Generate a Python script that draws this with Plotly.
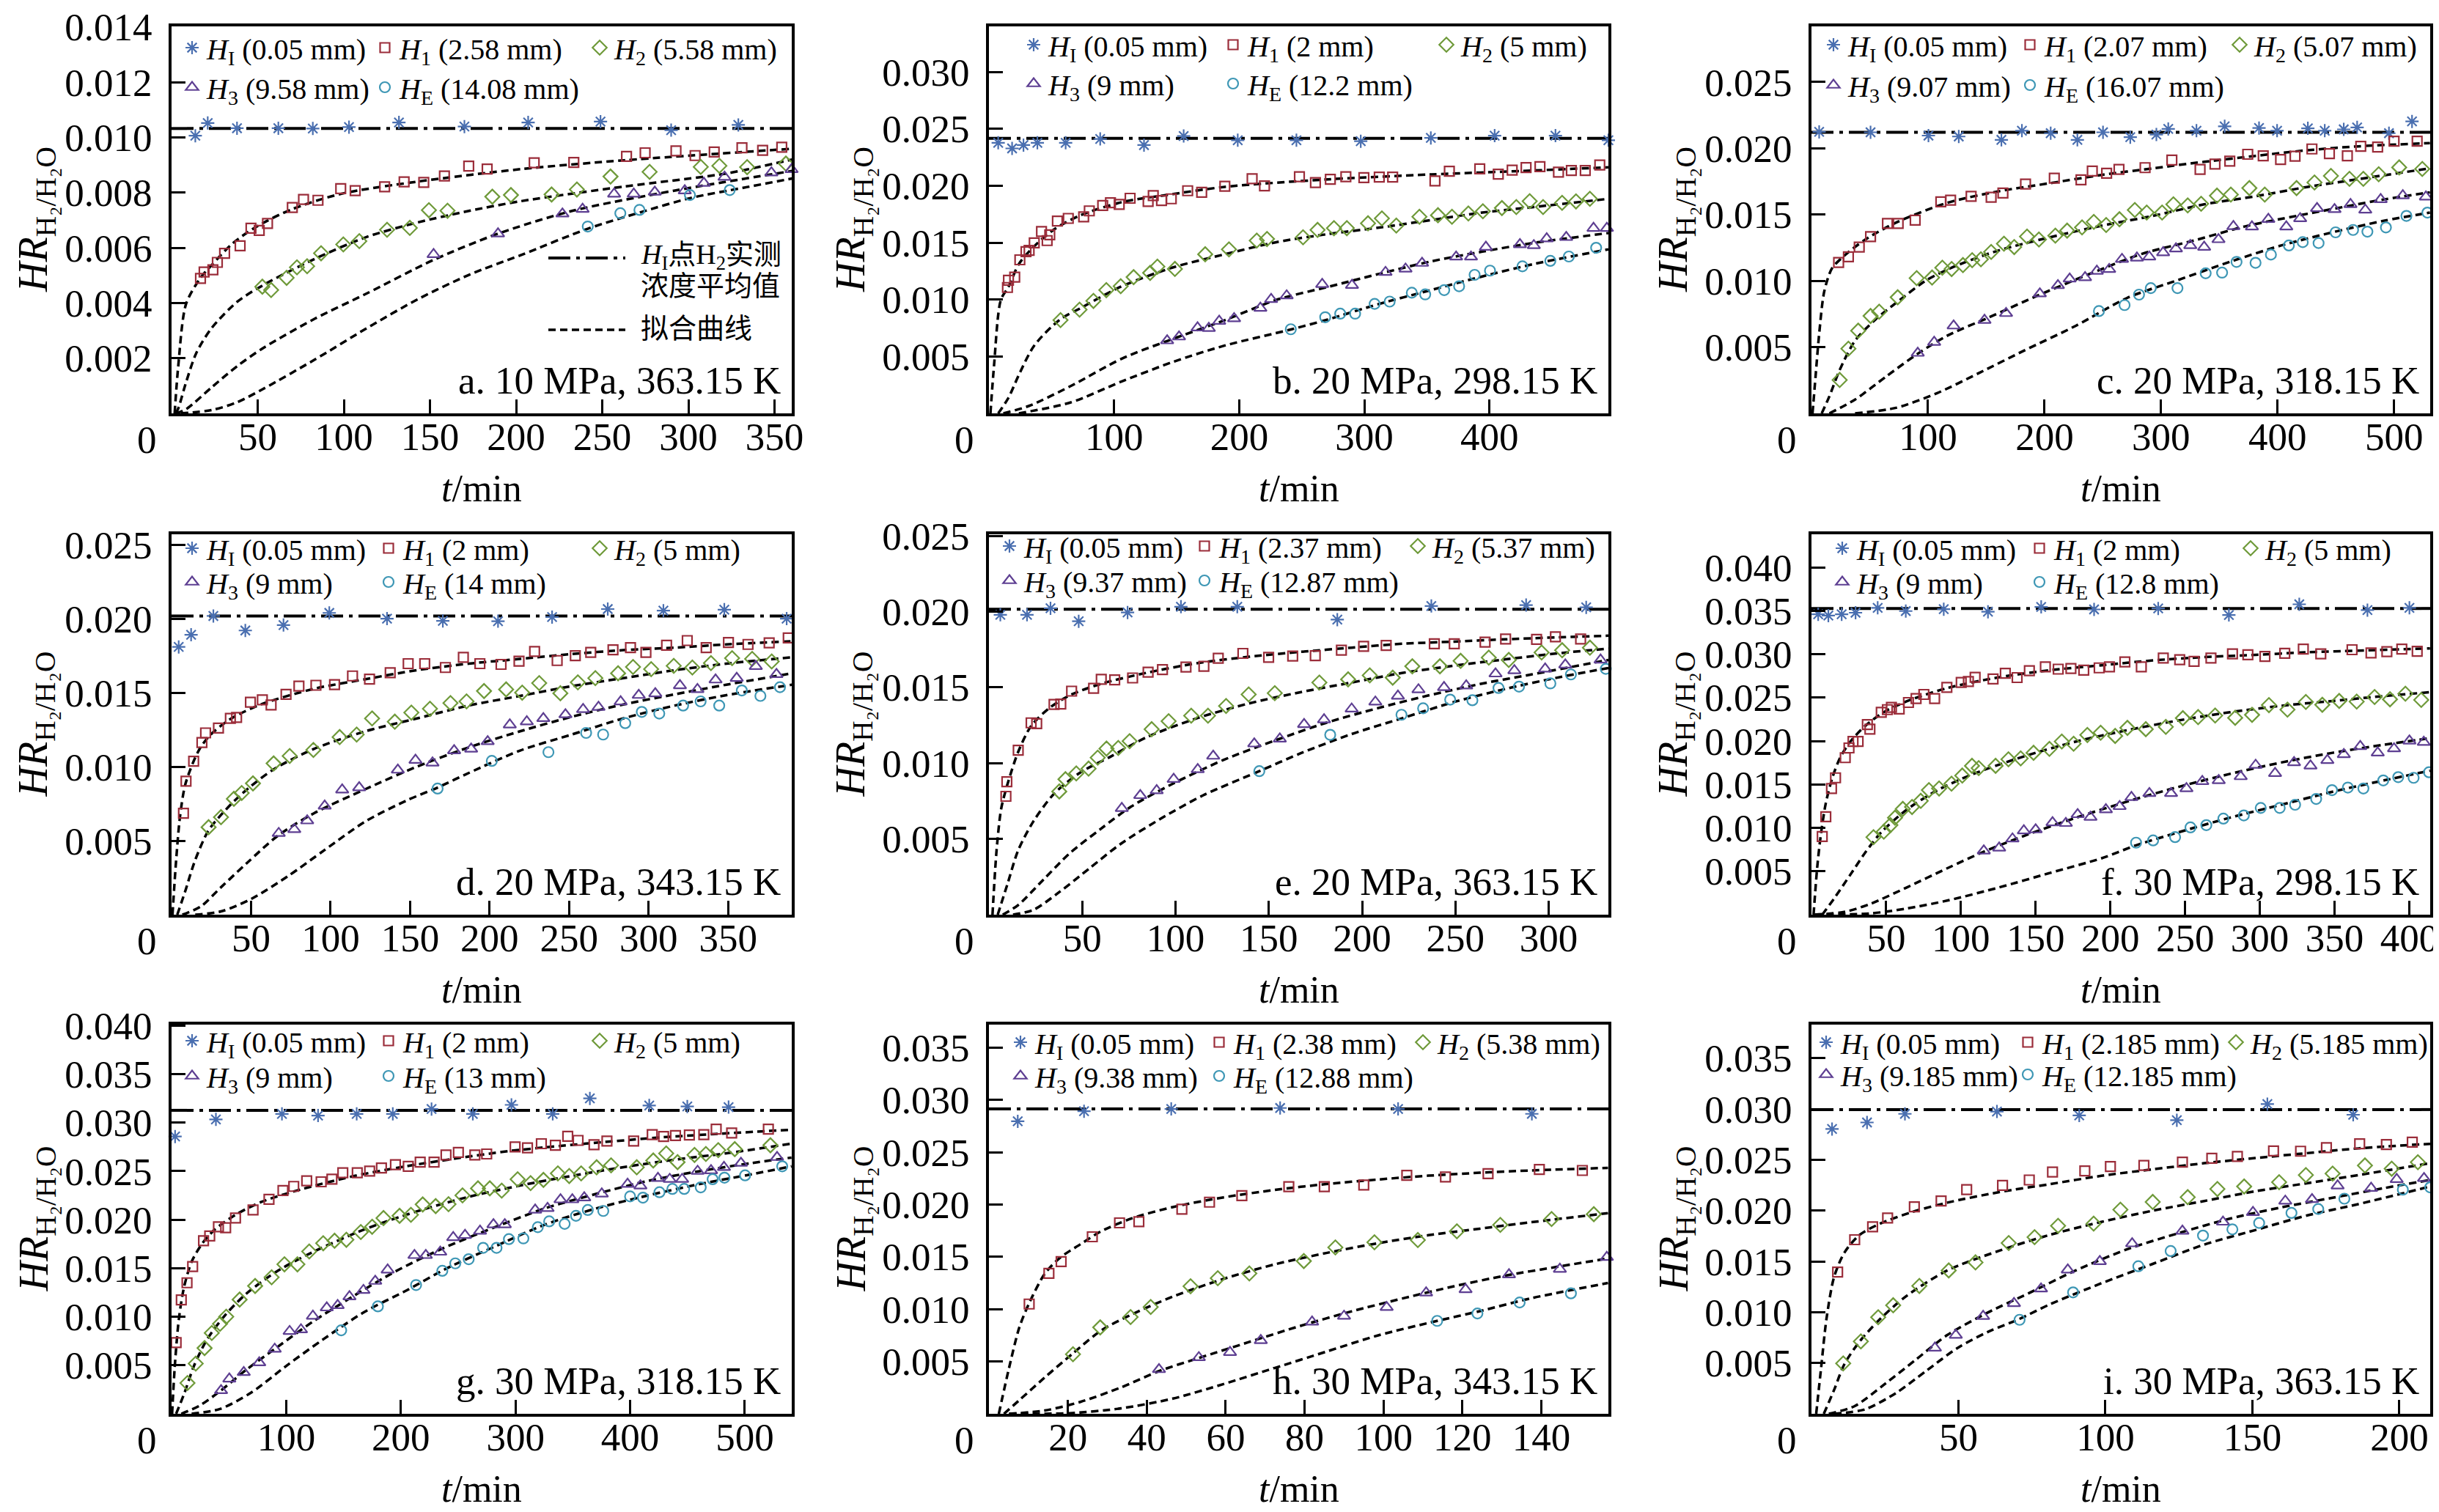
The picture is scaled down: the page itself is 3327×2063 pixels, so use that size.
import plotly.graph_objects as go

W, H = 3327, 2063
SERIF = "Liberation Serif, Times New Roman, serif"
CJK = "Liberation Serif, Noto Sans CJK SC, serif"

SUBS = ["I", "1", "2", "3", "E"]

# ---------------- a. 10 MPa, 363.15 K ----------------
A_TITLE = "a. 10 MPa, 363.15 K"
A_DEPTHS = ["0.05", "2.58", "5.58", "9.58", "14.08"]
A_XTICKS = [50, 100, 150, 200, 250, 300, 350]
A_YTICKS = [0.002, 0.004, 0.006, 0.008, 0.010, 0.012, 0.014]
A_MEAN = 0.01032
A_HI = [(13.8, 0.01006), (21.0, 0.01052), (38.0, 0.01033), (62.0, 0.01033), (82.0, 0.01032),
        (103.0, 0.01037), (132.0, 0.01054), (170.0, 0.01039), (207.0, 0.01054), (249.0, 0.01057),
        (290.0, 0.01026), (329.0, 0.01045), (361.0, 0.01045)]
A_H1 = [(16.8, 0.00489), (18.9, 0.00512), (24.0, 0.00520), (26.6, 0.00547), (30.8, 0.00580),
        (39.8, 0.00607), (46.1, 0.00671), (50.9, 0.00663), (55.7, 0.00688), (70.1, 0.00746),
        (76.6, 0.00775), (85.0, 0.00772), (98.2, 0.00814), (106.6, 0.00807), (123.7, 0.00821),
        (135.0, 0.00839), (146.4, 0.00837), (158.4, 0.00860), (172.5, 0.00896), (183.2, 0.00885),
        (210.5, 0.00908), (233.5, 0.00909), (264.1, 0.00931), (274.9, 0.00944), (292.8, 0.00951),
        (303.9, 0.00934), (315.0, 0.00947), (331.1, 0.00962), (343.1, 0.00953), (354.2, 0.00964)]
A_H2 = [(52.7, 0.00459), (57.8, 0.00447), (66.8, 0.00491), (72.8, 0.00529), (78.7, 0.00533),
        (86.8, 0.00580), (99.7, 0.00612), (109.0, 0.00624), (125.1, 0.00665), (138.3, 0.00672),
        (149.4, 0.00736), (160.2, 0.00734), (186.2, 0.00785), (197.0, 0.00791), (220.6, 0.00793),
        (235.3, 0.00811), (254.8, 0.00858), (277.5, 0.00875), (307.2, 0.00893), (318.0, 0.00897),
        (334.1, 0.00892), (356.6, 0.00905)]
A_H3 = [(152.1, 0.00576), (189.5, 0.00651), (226.9, 0.00723), (238.6, 0.00740), (256.9, 0.00795),
        (268.3, 0.00795), (280.5, 0.00802), (297.9, 0.00807), (309.0, 0.00834), (321.0, 0.00856),
        (348.2, 0.00872), (359.9, 0.00884)]
A_HE = [(241.6, 0.00677), (260.5, 0.00725), (271.6, 0.00737), (300.9, 0.00791), (324.0, 0.00809)]
A_FIT1 = [(1.8, 0), (3.9, 0.00172), (8.4, 0.00396), (16.8, 0.00491), (23.4, 0.00538), (35.3, 0.00615),
          (49.7, 0.00678), (70.1, 0.00740), (98.2, 0.00795), (143.1, 0.00840), (203.0, 0.00885),
          (262.9, 0.00917), (361.1, 0.00959)]
A_FIT2 = [(2.4, 0), (3.9, 0.00018), (8.4, 0.00112), (14.4, 0.00219), (23.4, 0.00310), (38.3, 0.00405),
          (53.3, 0.00465), (83.2, 0.00560), (113.2, 0.00639), (143.1, 0.00692), (173.1, 0.00734),
          (203.0, 0.00769), (262.9, 0.00822), (322.8, 0.00870), (361.1, 0.00921)]
A_FIT3 = [(2.4, 0), (8.4, 0.00015), (23.4, 0.00095), (38.3, 0.00172), (53.3, 0.00237), (83.2, 0.00343),
          (113.2, 0.00434), (152.1, 0.00556), (189.5, 0.00651), (232.9, 0.00734), (292.8, 0.00808),
          (361.1, 0.00879)]
A_FIT4 = [(5.4, 0), (23.4, 0.00012), (38.3, 0.00041), (53.3, 0.00089), (83.2, 0.00195), (113.2, 0.00308),
          (143.1, 0.00414), (173.1, 0.00503), (203.0, 0.00574), (241.6, 0.00669), (271.9, 0.00728),
          (301.8, 0.00781), (331.7, 0.00817), (361.1, 0.00852)]

# ---------------- b. 20 MPa, 298.15 K ----------------
B_TITLE = "b. 20 MPa, 298.15 K"
B_DEPTHS = ["0.05", "2", "5", "9", "12.2"]
B_XTICKS = [100, 200, 300, 400]
B_YTICKS = [0.005, 0.010, 0.015, 0.020, 0.025, 0.030]
B_MEAN = 0.02417
B_HI = [(7.4, 0.02377), (18.5, 0.02328), (27.6, 0.02357), (38.7, 0.02377), (61.3, 0.02377),
        (88.9, 0.02411), (123.9, 0.02357), (155.6, 0.02437), (198.8, 0.02400), (245.7, 0.02400),
        (297.1, 0.02391), (353.1, 0.02420), (404.1, 0.02440), (452.7, 0.02440), (495.0, 0.02400)]
B_H1 = [(14.8, 0.01106), (15.6, 0.01169), (20.6, 0.01197), (24.7, 0.01349), (29.6, 0.01421),
        (32.1, 0.01432), (36.2, 0.01498), (42.0, 0.01598), (46.5, 0.01518), (48.6, 0.01569),
        (54.7, 0.01690), (63.4, 0.01713), (75.7, 0.01727), (80.2, 0.01779), (90.9, 0.01827),
        (97.1, 0.01850), (104.1, 0.01836), (112.8, 0.01890), (127.2, 0.01862), (131.3, 0.01913),
        (137.9, 0.01870), (145.7, 0.01885), (158.8, 0.01956), (170.0, 0.01942), (188.5, 0.01996),
        (210.3, 0.02062), (220.2, 0.01999), (248.1, 0.02079), (260.9, 0.02028), (272.8, 0.02056),
        (285.2, 0.02079), (299.6, 0.02071), (311.9, 0.02076), (322.6, 0.02076), (356.4, 0.02042),
        (367.9, 0.02128), (392.2, 0.02148), (407.0, 0.02102), (418.1, 0.02137), (429.2, 0.02159),
        (440.3, 0.02168), (455.1, 0.02119), (465.4, 0.02134), (476.5, 0.02134), (488.1, 0.02182)]
B_H2 = [(57.2, 0.00819), (72.4, 0.00911), (83.5, 0.00988), (93.8, 0.01083), (105.3, 0.01117),
        (115.6, 0.01197), (128.8, 0.01234), (134.6, 0.01289), (148.6, 0.01269), (172.8, 0.01398),
        (191.8, 0.01441), (214.0, 0.01518), (222.2, 0.01532), (251.0, 0.01547), (262.6, 0.01612),
        (275.7, 0.01627), (286.0, 0.01627), (302.9, 0.01670), (314.0, 0.01713), (325.5, 0.01650),
        (344.0, 0.01727), (358.8, 0.01741), (370.0, 0.01727), (383.1, 0.01756), (394.7, 0.01776),
        (409.9, 0.01804), (421.4, 0.01813), (432.1, 0.01864), (442.8, 0.01813), (458.0, 0.01850),
        (469.1, 0.01862), (480.2, 0.01885)]
B_H3 = [(142.4, 0.00639), (151.9, 0.00673), (166.7, 0.00753), (175.7, 0.00748), (184.0, 0.00811),
        (195.9, 0.00833), (216.9, 0.00925), (225.5, 0.01002), (237.9, 0.01034), (266.3, 0.01134),
        (290.1, 0.01126), (316.9, 0.01240), (332.9, 0.01269), (346.1, 0.01320), (373.3, 0.01375),
        (385.2, 0.01375), (397.1, 0.01461), (424.3, 0.01484), (435.4, 0.01475), (445.7, 0.01535),
        (461.3, 0.01547), (483.1, 0.01627), (493.8, 0.01627)]
B_HE = [(241.2, 0.00739), (268.7, 0.00845), (280.7, 0.00876), (292.6, 0.00876), (308.2, 0.00962),
        (320.2, 0.00982), (337.9, 0.01060), (348.6, 0.01045), (363.8, 0.01083), (375.7, 0.01117),
        (388.1, 0.01217), (400.4, 0.01254), (426.3, 0.01292), (448.6, 0.01340), (463.4, 0.01378),
        (485.2, 0.01455)]
B_FIT1 = [(1.2, 0), (4.1, 0.00424), (9.5, 0.00997), (15.6, 0.01111), (23.9, 0.01312), (36.2, 0.01469),
          (52.7, 0.01621), (73.3, 0.01741), (106.2, 0.01856), (147.3, 0.01927), (188.5, 0.01990),
          (270.8, 0.02056), (353.1, 0.02099), (435.4, 0.02134), (495.0, 0.02162)]
B_FIT2 = [(7.4, 0), (15.6, 0.00137), (23.9, 0.00338), (36.2, 0.00596), (56.8, 0.00825), (73.3, 0.00925),
          (106.2, 0.01117), (147.3, 0.01283), (188.5, 0.01398), (229.6, 0.01504), (270.8, 0.01575),
          (311.9, 0.01632), (353.1, 0.01698), (394.2, 0.01764), (435.4, 0.01813), (495.0, 0.01885)]
B_FIT3 = [(11.5, 0), (32.1, 0.00066), (65.0, 0.00238), (106.2, 0.00481), (143.2, 0.00639),
          (188.5, 0.00819), (229.6, 0.00997), (270.8, 0.01111), (311.9, 0.01226), (353.1, 0.01335),
          (394.2, 0.01421), (435.4, 0.01498), (495.0, 0.01584)]
B_FIT4 = [(23.9, 0), (65.0, 0.00095), (106.2, 0.00281), (147.3, 0.00453), (188.5, 0.00596),
          (242.0, 0.00739), (270.8, 0.00825), (311.9, 0.00962), (353.1, 0.01083), (394.2, 0.01203),
          (435.4, 0.01312), (495.0, 0.01441)]

# ---------------- c. 20 MPa, 318.15 K ----------------
C_TITLE = "c. 20 MPa, 318.15 K"
C_DEPTHS = ["0.05", "2.07", "5.07", "9.07", "16.07"]
C_XTICKS = [100, 200, 300, 400, 500]
C_YTICKS = [0.005, 0.010, 0.015, 0.020, 0.025]
C_MEAN = 0.02121
C_HI = [(6.6, 0.02124), (50.7, 0.02121), (100.4, 0.02096), (126.4, 0.02089), (163.0, 0.02064),
        (180.6, 0.02133), (205.3, 0.02114), (228.2, 0.02064), (250.2, 0.02121), (273.6, 0.02084),
        (296.0, 0.02104), (306.2, 0.02146), (330.4, 0.02133), (354.6, 0.02166), (384.1, 0.02153),
        (399.6, 0.02133), (426.0, 0.02151), (440.5, 0.02133), (456.8, 0.02143), (468.3, 0.02158),
        (495.6, 0.02114), (515.4, 0.02203)]
C_H1 = [(23.3, 0.01139), (31.7, 0.01181), (41.0, 0.01255), (50.7, 0.01334), (65.2, 0.01433),
        (74.4, 0.01433), (89.0, 0.01458), (111.0, 0.01596), (119.4, 0.01609), (137.0, 0.01638),
        (154.2, 0.01631), (164.3, 0.01663), (183.7, 0.01730), (208.4, 0.01775), (231.3, 0.01762),
        (241.0, 0.01829), (253.3, 0.01812), (263.9, 0.01841), (286.3, 0.01854), (309.3, 0.01911),
        (333.5, 0.01841), (346.3, 0.01881), (359.0, 0.01903), (374.4, 0.01955), (387.7, 0.01943),
        (402.6, 0.01916), (415.0, 0.01940), (429.5, 0.01995), (444.5, 0.01960), (459.9, 0.01943),
        (471.4, 0.02015), (485.9, 0.02010), (500.0, 0.02054), (519.8, 0.02054)]
C_H2 = [(24.2, 0.00252), (31.7, 0.00488), (40.1, 0.00624), (50.7, 0.00735), (58.1, 0.00767),
        (74.0, 0.00876), (90.3, 0.01020), (103.5, 0.01025), (112.3, 0.01099), (120.3, 0.01089),
        (130.0, 0.01119), (137.9, 0.01156), (145.4, 0.01163), (154.2, 0.01218), (165.2, 0.01280),
        (174.0, 0.01255), (185.0, 0.01334), (195.2, 0.01312), (209.3, 0.01341), (219.4, 0.01379),
        (232.2, 0.01403), (242.3, 0.01445), (252.9, 0.01421), (264.3, 0.01465), (277.5, 0.01535),
        (287.7, 0.01515), (300.9, 0.01515), (310.6, 0.01577), (322.9, 0.01569), (334.4, 0.01582),
        (348.0, 0.01643), (359.9, 0.01651), (375.8, 0.01700), (389.0, 0.01651), (416.3, 0.01700),
        (431.7, 0.01742), (445.8, 0.01792), (461.7, 0.01770), (473.6, 0.01770), (486.8, 0.01804),
        (504.4, 0.01856), (524.2, 0.01844)]
C_H3 = [(91.2, 0.00455), (105.3, 0.00537), (122.0, 0.00661), (148.5, 0.00703), (167.0, 0.00755),
        (196.0, 0.00903), (211.5, 0.00965), (221.6, 0.01015), (234.8, 0.01025), (244.9, 0.01074),
        (255.5, 0.01087), (266.5, 0.01163), (279.3, 0.01173), (289.9, 0.01181), (301.8, 0.01213),
        (312.8, 0.01242), (325.1, 0.01267), (337.0, 0.01255), (349.3, 0.01312), (362.1, 0.01411),
        (378.0, 0.01408), (392.1, 0.01465), (407.5, 0.01408), (419.4, 0.01470), (433.9, 0.01547),
        (448.9, 0.01539), (462.6, 0.01577), (475.3, 0.01535), (488.5, 0.01614), (507.5, 0.01643),
        (527.3, 0.01634)]
C_HE = [(246.7, 0.00772), (268.7, 0.00817), (281.1, 0.00896), (291.2, 0.00945), (314.1, 0.00945),
        (338.3, 0.01057), (352.4, 0.01062), (364.8, 0.01143), (381.1, 0.01136), (394.3, 0.01198),
        (409.7, 0.01267), (421.6, 0.01292), (435.2, 0.01285), (449.8, 0.01366), (464.8, 0.01384),
        (477.1, 0.01371), (493.0, 0.01403), (510.6, 0.01490), (528.6, 0.01515)]
C_FIT1 = [(0.9, 0), (3.5, 0.00277), (6.6, 0.00599), (11.0, 0.00921), (17.6, 0.01094), (28.6, 0.01193),
          (46.3, 0.01312), (72.7, 0.01440), (116.7, 0.01589), (160.8, 0.01676), (204.8, 0.01737),
          (248.9, 0.01799), (292.9, 0.01849), (337.0, 0.01898), (381.1, 0.01943), (425.1, 0.01985),
          (469.2, 0.02015), (530.8, 0.02039)]
C_FIT2 = [(8.8, 0), (15.4, 0.00129), (24.2, 0.00327), (37.4, 0.00549), (55.1, 0.00710), (72.7, 0.00834),
          (99.1, 0.01007), (125.6, 0.01119), (160.8, 0.01230), (204.8, 0.01329), (248.9, 0.01416),
          (292.9, 0.01490), (337.0, 0.01577), (381.1, 0.01638), (425.1, 0.01708), (469.2, 0.01767),
          (530.8, 0.01849)]
C_FIT3 = [(15.4, 0), (37.4, 0.00104), (63.9, 0.00277), (91.2, 0.00450), (116.7, 0.00587),
          (152.0, 0.00723), (196.0, 0.00896), (240.1, 0.01057), (284.1, 0.01205), (328.2, 0.01304),
          (372.2, 0.01411), (416.3, 0.01490), (460.4, 0.01564), (491.2, 0.01614), (530.8, 0.01668)]
C_FIT4 = [(37.4, 0), (72.7, 0.00042), (107.9, 0.00153), (143.2, 0.00302), (182.8, 0.00475),
          (226.9, 0.00661), (270.9, 0.00871), (315.0, 0.01007), (359.0, 0.01143), (403.1, 0.01267),
          (447.1, 0.01366), (491.2, 0.01453), (530.8, 0.01515)]

# ---------------- d. 20 MPa, 343.15 K ----------------
D_TITLE = "d. 20 MPa, 343.15 K"
D_DEPTHS = ["0.05", "2", "5", "9", "14"]
D_XTICKS = [50, 100, 150, 200, 250, 300, 350]
D_YTICKS = [0.005, 0.010, 0.015, 0.020, 0.025]
D_MEAN = 0.02018
D_HI = [(4.5, 0.01809), (12.3, 0.01891), (26.3, 0.02018), (46.4, 0.01920), (70.4, 0.01957),
        (99.2, 0.02039), (135.5, 0.02000), (170.6, 0.01985), (205.3, 0.01983), (239.3, 0.02011),
        (274.3, 0.02065), (309.3, 0.02054), (347.6, 0.02061), (386.8, 0.02000)]
D_H1 = [(7.5, 0.00685), (9.1, 0.00902), (13.9, 0.01037), (19.1, 0.01163), (21.4, 0.01228),
        (29.5, 0.01261), (37.0, 0.01326), (40.9, 0.01333), (49.6, 0.01435), (57.1, 0.01452),
        (62.6, 0.01417), (72.0, 0.01489), (80.1, 0.01544), (90.8, 0.01550), (102.5, 0.01554),
        (113.8, 0.01613), (124.5, 0.01591), (137.5, 0.01635), (148.8, 0.01696), (159.2, 0.01696),
        (172.2, 0.01670), (183.5, 0.01739), (193.9, 0.01696), (207.2, 0.01691), (218.5, 0.01713),
        (228.3, 0.01778), (242.5, 0.01717), (253.9, 0.01750), (263.6, 0.01772), (277.6, 0.01789),
        (288.6, 0.01804), (298.3, 0.01772), (311.3, 0.01820), (324.3, 0.01852), (336.2, 0.01804),
        (350.2, 0.01839), (362.5, 0.01826), (375.8, 0.01837), (387.8, 0.01870)]
D_H2 = [(23.3, 0.00591), (31.1, 0.00659), (39.2, 0.00783), (44.1, 0.00822), (51.2, 0.00887),
        (64.2, 0.01022), (74.3, 0.01072), (89.2, 0.01113), (105.7, 0.01200), (116.4, 0.01217),
        (126.1, 0.01326), (140.4, 0.01304), (150.8, 0.01365), (162.5, 0.01391), (175.4, 0.01430),
        (185.5, 0.01441), (196.5, 0.01511), (210.4, 0.01522), (220.5, 0.01500), (231.2, 0.01565),
        (244.5, 0.01496), (255.5, 0.01570), (266.5, 0.01598), (280.8, 0.01631), (290.2, 0.01674),
        (301.6, 0.01659), (315.8, 0.01681), (327.5, 0.01670), (339.2, 0.01700), (352.5, 0.01733),
        (365.1, 0.01728), (377.4, 0.01711)]
D_H3 = [(67.4, 0.00550), (77.2, 0.00576), (85.3, 0.00635), (96.3, 0.00735), (107.3, 0.00844),
        (118.0, 0.00859), (142.3, 0.00978), (153.4, 0.01044), (164.1, 0.01026), (177.7, 0.01109),
        (188.4, 0.01120), (198.8, 0.01170), (212.7, 0.01283), (223.4, 0.01304), (233.8, 0.01326),
        (247.7, 0.01352), (258.8, 0.01387), (268.5, 0.01402), (282.4, 0.01439), (293.8, 0.01483),
        (304.2, 0.01494), (319.7, 0.01548), (330.7, 0.01522), (342.1, 0.01587), (355.4, 0.01598),
        (367.4, 0.01678), (380.4, 0.01624)]
D_HE = [(167.3, 0.00852), (201.4, 0.01039), (237.0, 0.01098), (260.7, 0.01228), (271.4, 0.01217),
        (285.3, 0.01294), (295.7, 0.01370), (306.7, 0.01359), (321.7, 0.01413), (332.7, 0.01441),
        (344.4, 0.01413), (358.6, 0.01515), (370.3, 0.01478), (382.6, 0.01537)]
D_FIT1 = [(0.6, 0), (2.6, 0.00326), (5.2, 0.00652), (8.4, 0.00870), (13.3, 0.01022), (18.2, 0.01130),
          (24.6, 0.01217), (37.6, 0.01326), (57.1, 0.01424), (89.5, 0.01526), (121.9, 0.01591),
          (154.3, 0.01652), (186.8, 0.01696), (219.2, 0.01728), (251.6, 0.01761), (284.0, 0.01787),
          (316.5, 0.01804), (348.9, 0.01826), (390.4, 0.01848)]
D_FIT2 = [(3.6, 0), (8.4, 0.00152), (14.9, 0.00370), (23.0, 0.00565), (31.1, 0.00674), (44.1, 0.00815),
          (63.6, 0.00978), (89.5, 0.01120), (121.9, 0.01239), (154.3, 0.01326), (186.8, 0.01413),
          (219.2, 0.01478), (251.6, 0.01544), (284.0, 0.01598), (316.5, 0.01652), (348.9, 0.01696),
          (390.4, 0.01739)]
D_FIT3 = [(6.8, 0), (18.2, 0.00054), (31.1, 0.00185), (47.3, 0.00348), (66.8, 0.00533), (89.5, 0.00685),
          (121.9, 0.00848), (154.3, 0.01000), (186.8, 0.01130), (219.2, 0.01239), (251.6, 0.01337),
          (284.0, 0.01420), (316.5, 0.01489), (348.9, 0.01554), (390.4, 0.01631)]
D_FIT4 = [(14.9, 0), (31.1, 0.00022), (50.6, 0.00109), (73.3, 0.00261), (96.0, 0.00435),
          (121.9, 0.00630), (147.9, 0.00772), (167.3, 0.00859), (186.8, 0.00957), (219.2, 0.01109),
          (251.6, 0.01217), (284.0, 0.01326), (316.5, 0.01413), (348.9, 0.01483), (390.4, 0.01554)]

# ---------------- e. 20 MPa, 363.15 K ----------------
E_TITLE = "e. 20 MPa, 363.15 K"
E_DEPTHS = ["0.05", "2.37", "5.37", "9.37", "12.87"]
E_XTICKS = [50, 100, 150, 200, 250, 300]
E_YTICKS = [0.005, 0.010, 0.015, 0.020, 0.025]
E_MEAN = 0.02015
E_HI = [(6.1, 0.01979), (20.4, 0.01979), (33.0, 0.02022), (48.1, 0.01936), (74.3, 0.01994),
        (102.9, 0.02032), (133.1, 0.02032), (186.7, 0.01947), (237.1, 0.02037), (287.9, 0.02043),
        (320.1, 0.02028)]
E_H1 = [(9.1, 0.00781), (9.6, 0.00877), (15.7, 0.01085), (22.6, 0.01266), (25.6, 0.01260),
        (34.9, 0.01387), (38.5, 0.01390), (44.3, 0.01475), (56.1, 0.01494), (60.2, 0.01553),
        (67.4, 0.01549), (77.0, 0.01562), (85.3, 0.01600), (93.0, 0.01617), (105.6, 0.01634),
        (115.2, 0.01639), (122.9, 0.01692), (136.1, 0.01724), (149.9, 0.01698), (162.8, 0.01707),
        (174.9, 0.01709), (188.9, 0.01745), (200.8, 0.01771), (212.9, 0.01777), (238.7, 0.01788),
        (249.4, 0.01788), (265.9, 0.01798), (276.9, 0.01819), (293.5, 0.01817), (303.6, 0.01834),
        (317.1, 0.01819)]
E_H2 = [(37.7, 0.00813), (41.0, 0.00894), (46.8, 0.00932), (53.4, 0.00964), (58.3, 0.01036),
        (63.0, 0.01096), (69.3, 0.01100), (75.4, 0.01145), (87.2, 0.01224), (96.3, 0.01277),
        (108.4, 0.01313), (117.4, 0.01313), (127.1, 0.01377), (139.2, 0.01453), (153.2, 0.01462),
        (177.1, 0.01532), (192.5, 0.01553), (204.1, 0.01579), (216.4, 0.01564), (226.9, 0.01639),
        (241.7, 0.01639), (252.8, 0.01675), (267.9, 0.01696), (278.6, 0.01681), (296.2, 0.01730),
        (307.2, 0.01745), (322.1, 0.01762)]
E_H3 = [(71.2, 0.00702), (81.1, 0.00787), (89.9, 0.00819), (99.0, 0.00894), (111.9, 0.00958),
        (120.2, 0.01047), (142.2, 0.01128), (155.9, 0.01160), (168.9, 0.01256), (179.6, 0.01287),
        (194.4, 0.01358), (207.1, 0.01404), (219.2, 0.01443), (230.2, 0.01485), (243.9, 0.01500),
        (255.8, 0.01511), (271.5, 0.01590), (281.6, 0.01611), (298.1, 0.01622), (308.9, 0.01649),
        (327.8, 0.01681)]
E_HE = [(144.9, 0.00947), (182.9, 0.01187), (221.1, 0.01319), (232.7, 0.01362), (247.2, 0.01419),
        (259.1, 0.01415), (273.1, 0.01496), (284.1, 0.01505), (300.9, 0.01526), (311.9, 0.01585),
        (330.6, 0.01622)]
E_FIT1 = [(1.9, 0), (4.1, 0.00426), (6.6, 0.00702), (10.2, 0.00872), (15.7, 0.01075), (22.6, 0.01245),
          (32.2, 0.01362), (43.2, 0.01447), (59.7, 0.01522), (84.4, 0.01596), (111.9, 0.01660),
          (139.4, 0.01702), (166.9, 0.01734), (194.4, 0.01762), (221.9, 0.01788), (249.4, 0.01802),
          (276.9, 0.01817), (304.5, 0.01830), (332.0, 0.01841)]
E_FIT2 = [(4.7, 0), (10.2, 0.00213), (15.7, 0.00426), (23.9, 0.00617), (34.9, 0.00798), (48.7, 0.00936),
          (65.2, 0.01043), (84.4, 0.01170), (111.9, 0.01298), (139.4, 0.01394), (166.9, 0.01468),
          (194.4, 0.01532), (221.9, 0.01596), (249.4, 0.01643), (276.9, 0.01685), (304.5, 0.01724),
          (332.0, 0.01756)]
E_FIT3 = [(7.4, 0), (15.7, 0.00064), (29.4, 0.00234), (43.2, 0.00404), (59.7, 0.00564), (76.2, 0.00713),
          (98.2, 0.00862), (125.7, 0.01021), (153.2, 0.01149), (180.7, 0.01266), (208.2, 0.01362),
          (235.7, 0.01447), (263.2, 0.01522), (290.7, 0.01585), (332.0, 0.01681)]
E_FIT4 = [(12.9, 0), (23.9, 0.00032), (37.7, 0.00149), (54.2, 0.00309), (70.7, 0.00468), (92.7, 0.00638),
          (114.7, 0.00787), (144.9, 0.00947), (166.9, 0.01064), (194.4, 0.01192), (221.9, 0.01298),
          (249.4, 0.01404), (276.9, 0.01490), (304.5, 0.01564), (332.0, 0.01628)]

# ---------------- f. 30 MPa, 298.15 K ----------------
F_TITLE = "f. 30 MPa, 298.15 K"
F_DEPTHS = ["0.05", "2", "5", "9", "12.8"]
F_XTICKS = [50, 100, 150, 200, 250, 300, 350, 400]
F_YTICKS = [0.005, 0.010, 0.015, 0.020, 0.025, 0.030, 0.035, 0.040]
F_MEAN = 0.03526
F_HI = [(4.5, 0.03459), (11.3, 0.03444), (20.2, 0.03459), (29.5, 0.03477), (44.3, 0.03533),
        (63.1, 0.03496), (88.5, 0.03518), (118.1, 0.03488), (153.7, 0.03544), (189.1, 0.03515),
        (232.0, 0.03526), (279.3, 0.03451), (326.4, 0.03574), (372.0, 0.03507), (400.1, 0.03533)]
F_H1 = [(7.2, 0.00900), (9.6, 0.01128), (13.4, 0.01453), (16.1, 0.01576), (22.6, 0.01808),
        (25.1, 0.01920), (27.8, 0.01994), (31.2, 0.01994), (37.4, 0.02189), (39.1, 0.02136),
        (46.7, 0.02331), (50.8, 0.02361), (53.5, 0.02387), (58.7, 0.02368), (64.9, 0.02443),
        (70.0, 0.02488), (75.2, 0.02536), (82.4, 0.02488), (90.6, 0.02618), (100.2, 0.02674),
        (105.0, 0.02685), (109.5, 0.02734), (121.5, 0.02715), (129.7, 0.02779), (137.6, 0.02730),
        (145.8, 0.02809), (156.5, 0.02854), (165.1, 0.02827), (173.6, 0.02835), (182.2, 0.02816),
        (192.5, 0.02842), (199.4, 0.02854), (209.7, 0.02910), (220.7, 0.02854), (235.4, 0.02954),
        (246.4, 0.02936), (256.0, 0.02917), (267.3, 0.02954), (281.7, 0.03003), (292.0, 0.02992),
        (303.4, 0.02973), (316.7, 0.03010), (329.1, 0.03059), (340.8, 0.03003), (361.7, 0.03051),
        (374.4, 0.03014), (385.0, 0.03029), (395.0, 0.03059), (405.3, 0.03033)]
F_H2 = [(41.5, 0.00893), (48.4, 0.00956), (52.8, 0.01031), (55.9, 0.01117), (61.1, 0.01218),
        (67.3, 0.01240), (73.1, 0.01311), (78.6, 0.01434), (85.4, 0.01453), (93.7, 0.01509),
        (100.9, 0.01602), (107.4, 0.01714), (111.9, 0.01688), (123.2, 0.01714), (131.8, 0.01789),
        (140.0, 0.01800), (148.6, 0.01864), (159.2, 0.01909), (167.5, 0.01994), (175.4, 0.01968),
        (184.6, 0.02069), (193.5, 0.02095), (203.2, 0.02058), (211.4, 0.02151), (223.7, 0.02136),
        (237.1, 0.02163), (248.5, 0.02263), (258.7, 0.02275), (270.1, 0.02293), (283.5, 0.02267),
        (294.8, 0.02301), (306.1, 0.02413), (318.5, 0.02361), (330.8, 0.02450), (341.8, 0.02417),
        (353.1, 0.02461), (364.8, 0.02454), (376.8, 0.02506), (387.1, 0.02480), (397.4, 0.02544),
        (408.0, 0.02473)]
F_H3 = [(115.3, 0.00736), (125.6, 0.00769), (134.5, 0.00874), (142.1, 0.00967), (150.0, 0.00979),
        (161.3, 0.01061), (170.2, 0.01053), (178.1, 0.01154), (186.7, 0.01124), (197.0, 0.01210),
        (206.2, 0.01247), (214.1, 0.01352), (226.1, 0.01397), (240.6, 0.01397), (250.9, 0.01453),
        (261.5, 0.01535), (272.5, 0.01546), (287.2, 0.01591), (297.2, 0.01722), (310.2, 0.01628),
        (322.9, 0.01752), (333.9, 0.01714), (345.2, 0.01778), (356.2, 0.01845), (367.2, 0.01938),
        (378.9, 0.01864), (389.8, 0.01912), (400.1, 0.02002), (409.7, 0.01987)]
F_HE = [(217.2, 0.00829), (228.6, 0.00855), (243.3, 0.00893), (253.6, 0.01005), (264.2, 0.01031),
        (275.6, 0.01106), (289.3, 0.01143), (300.6, 0.01229), (313.3, 0.01229), (323.6, 0.01266),
        (337.7, 0.01333), (348.3, 0.01434), (358.9, 0.01464), (369.3, 0.01453), (382.6, 0.01546),
        (392.6, 0.01584), (402.9, 0.01576), (413.2, 0.01640)]
F_FIT1 = [(1.4, 0), (3.8, 0.00538), (6.2, 0.00911), (9.6, 0.01285), (14.1, 0.01584), (19.2, 0.01808),
          (26.1, 0.01994), (36.4, 0.02181), (50.1, 0.02349), (67.3, 0.02480), (91.3, 0.02611),
          (125.6, 0.02734), (159.9, 0.02816), (194.2, 0.02872), (228.6, 0.02928), (262.9, 0.02966),
          (297.2, 0.02992), (331.5, 0.03022), (365.8, 0.03040), (413.9, 0.03066)]
F_FIT2 = [(7.2, 0), (15.8, 0.00202), (26.1, 0.00463), (36.4, 0.00725), (46.7, 0.00949), (63.8, 0.01210),
          (84.4, 0.01434), (108.4, 0.01621), (142.8, 0.01826), (177.1, 0.01994), (211.4, 0.02125),
          (245.7, 0.02237), (280.0, 0.02331), (314.3, 0.02405), (348.7, 0.02461), (383.0, 0.02517),
          (413.9, 0.02562)]
F_FIT3 = [(2.1, 0), (22.6, 0.00034), (39.8, 0.00127), (63.8, 0.00314), (91.3, 0.00538),
          (115.3, 0.00725), (142.8, 0.00911), (177.1, 0.01117), (211.4, 0.01303), (245.7, 0.01472),
          (280.0, 0.01621), (314.3, 0.01752), (348.7, 0.01864), (383.0, 0.01957), (413.9, 0.02032)]
F_FIT4 = [(2.1, 0), (39.8, 0.00015), (63.8, 0.00071), (91.3, 0.00164), (125.6, 0.00314),
          (159.9, 0.00482), (194.2, 0.00650), (217.2, 0.00799), (245.7, 0.00949), (280.0, 0.01117),
          (314.3, 0.01266), (348.7, 0.01416), (383.0, 0.01546), (413.9, 0.01658)]

# ---------------- g. 30 MPa, 318.15 K ----------------
G_TITLE = "g. 30 MPa, 318.15 K"
G_DEPTHS = ["0.05", "2", "5", "9", "13"]
G_XTICKS = [100, 200, 300, 400, 500]
G_YTICKS = [0.005, 0.010, 0.015, 0.020, 0.025, 0.030, 0.035, 0.040]
G_MEAN = 0.03127
G_HI = [(3.1, 0.02857), (38.7, 0.03033), (96.3, 0.03090), (127.8, 0.03073), (161.5, 0.03090),
        (193.0, 0.03090), (226.8, 0.03140), (262.8, 0.03090), (296.5, 0.03183), (332.5, 0.03090),
        (364.9, 0.03250), (416.7, 0.03177), (449.9, 0.03167), (485.9, 0.03160)]
G_H1 = [(4.0, 0.00733), (8.5, 0.01173), (13.5, 0.01350), (18.4, 0.01517), (27.9, 0.01783),
        (33.3, 0.01833), (40.9, 0.01927), (47.2, 0.01917), (55.8, 0.02017), (71.1, 0.02100),
        (85.0, 0.02210), (97.2, 0.02300), (106.6, 0.02343), (117.9, 0.02400), (130.5, 0.02390),
        (139.9, 0.02417), (149.4, 0.02483), (162.0, 0.02483), (172.8, 0.02500), (183.1, 0.02533),
        (195.3, 0.02567), (206.5, 0.02550), (216.9, 0.02593), (229.0, 0.02593), (239.4, 0.02667),
        (250.2, 0.02693), (264.6, 0.02667), (274.9, 0.02677), (299.7, 0.02750), (310.5, 0.02740),
        (322.6, 0.02783), (334.8, 0.02767), (345.6, 0.02860), (354.6, 0.02817), (368.5, 0.02773),
        (379.8, 0.02810), (403.1, 0.02810), (419.3, 0.02877), (429.2, 0.02857), (439.6, 0.02867),
        (451.7, 0.02873), (464.3, 0.02877), (475.1, 0.02933), (488.6, 0.02893), (520.6, 0.02933)]
G_H2 = [(13.9, 0.00317), (21.1, 0.00517), (28.8, 0.00677), (35.1, 0.00833), (42.3, 0.00927),
        (47.7, 0.01000), (59.4, 0.01177), (72.9, 0.01317), (87.3, 0.01407), (98.5, 0.01540),
        (109.8, 0.01540), (120.1, 0.01673), (132.3, 0.01757), (142.2, 0.01783), (152.5, 0.01793),
        (165.1, 0.01873), (175.0, 0.01927), (184.9, 0.02017), (198.9, 0.02040), (208.8, 0.02050),
        (219.1, 0.02157), (230.4, 0.02140), (241.6, 0.02160), (253.8, 0.02250), (267.3, 0.02323),
        (277.6, 0.02323), (288.0, 0.02300), (301.9, 0.02417), (313.2, 0.02377), (324.4, 0.02410),
        (337.0, 0.02477), (346.9, 0.02450), (357.3, 0.02477), (370.8, 0.02540), (383.4, 0.02560),
        (405.8, 0.02540), (420.2, 0.02610), (431.5, 0.02683), (441.4, 0.02593), (456.2, 0.02667),
        (466.1, 0.02677), (476.9, 0.02717), (491.3, 0.02727), (522.4, 0.02767)]
G_H3 = [(43.2, 0.00240), (50.4, 0.00360), (63.0, 0.00427), (76.5, 0.00527), (90.0, 0.00667),
        (103.0, 0.00850), (112.9, 0.00867), (123.3, 0.01007), (135.4, 0.01093), (144.9, 0.01117),
        (155.2, 0.01207), (167.4, 0.01273), (177.7, 0.01367), (188.5, 0.01483), (211.9, 0.01633),
        (221.8, 0.01633), (234.4, 0.01667), (245.7, 0.01817), (256.0, 0.01840), (269.1, 0.01883),
        (280.8, 0.01950), (290.7, 0.01950), (317.2, 0.02100), (328.0, 0.02117), (339.3, 0.02207),
        (349.6, 0.02207), (360.0, 0.02227), (375.3, 0.02267), (397.8, 0.02367), (409.0, 0.02350),
        (424.3, 0.02427), (434.6, 0.02417), (445.4, 0.02417), (458.9, 0.02500), (470.6, 0.02507),
        (481.9, 0.02540), (496.7, 0.02583), (528.2, 0.02643)]
G_HE = [(148.0, 0.00860), (180.0, 0.01107), (213.3, 0.01327), (236.2, 0.01473), (247.5, 0.01550),
        (259.2, 0.01593), (271.8, 0.01710), (283.5, 0.01710), (294.3, 0.01800), (306.9, 0.01807),
        (319.5, 0.01923), (329.4, 0.01983), (342.9, 0.01957), (352.8, 0.02040), (363.1, 0.02100),
        (376.6, 0.02090), (400.0, 0.02240), (411.2, 0.02227), (425.6, 0.02283), (436.9, 0.02317),
        (447.2, 0.02317), (461.6, 0.02333), (472.0, 0.02417), (482.3, 0.02433), (500.3, 0.02457),
        (532.7, 0.02550)]
G_FIT1 = [(0.5, 0), (2.7, 0.00467), (6.3, 0.00967), (10.8, 0.01300), (17.5, 0.01567), (26.5, 0.01750),
          (37.8, 0.01900), (55.8, 0.02050), (78.3, 0.02183), (114.3, 0.02317), (159.3, 0.02450),
          (204.3, 0.02550), (249.3, 0.02633), (294.3, 0.02707), (339.3, 0.02760), (384.3, 0.02807),
          (429.2, 0.02850), (474.2, 0.02883), (540.8, 0.02927)]
G_FIT2 = [(4.0, 0), (10.8, 0.00200), (19.8, 0.00500), (31.0, 0.00767), (46.8, 0.01017), (64.8, 0.01233),
          (91.8, 0.01467), (123.3, 0.01667), (168.3, 0.01900), (213.3, 0.02083), (258.3, 0.02233),
          (303.3, 0.02350), (348.3, 0.02450), (393.3, 0.02540), (438.2, 0.02617), (483.2, 0.02683),
          (540.8, 0.02783)]
G_FIT3 = [(8.5, 0), (24.3, 0.00083), (42.3, 0.00233), (64.8, 0.00450), (91.8, 0.00683), (123.3, 0.00950),
          (159.3, 0.01217), (195.3, 0.01467), (235.8, 0.01700), (280.8, 0.01917), (325.8, 0.02117),
          (370.8, 0.02267), (415.7, 0.02400), (460.7, 0.02500), (505.7, 0.02583), (540.8, 0.02640)]
G_FIT4 = [(17.5, 0), (42.3, 0.00050), (69.3, 0.00217), (100.8, 0.00500), (132.3, 0.00767),
          (168.3, 0.01050), (204.3, 0.01267), (240.3, 0.01500), (280.8, 0.01717), (325.8, 0.01950),
          (370.8, 0.02117), (415.7, 0.02250), (460.7, 0.02367), (505.7, 0.02467), (540.8, 0.02550)]

# ---------------- h. 30 MPa, 343.15 K ----------------
H_TITLE = "h. 30 MPa, 343.15 K"
H_DEPTHS = ["0.05", "2.38", "5.38", "9.38", "12.88"]
H_XTICKS = [20, 40, 60, 80, 100, 120, 140]
H_YTICKS = [0.005, 0.010, 0.015, 0.020, 0.025, 0.030, 0.035]
H_MEAN = 0.02914
H_HI = [(7.3, 0.02796), (24.1, 0.02892), (46.2, 0.02914), (73.8, 0.02923), (103.7, 0.02914),
        (137.6, 0.02867)]
H_H1 = [(10.2, 0.01049), (15.2, 0.01342), (18.3, 0.01454), (26.2, 0.01692), (33.1, 0.01825),
        (38.0, 0.01837), (48.9, 0.01955), (55.9, 0.02023), (64.1, 0.02085), (76.0, 0.02171),
        (85.0, 0.02171), (95.0, 0.02187), (105.9, 0.02280), (115.7, 0.02264), (126.5, 0.02295),
        (139.5, 0.02335), (150.4, 0.02326)]
H_H2 = [(21.3, 0.00569), (28.2, 0.00826), (35.9, 0.00925), (41.0, 0.01021), (51.1, 0.01219),
        (58.0, 0.01296), (66.0, 0.01342), (79.8, 0.01460), (87.8, 0.01590), (97.7, 0.01639),
        (108.7, 0.01661), (118.6, 0.01744), (129.6, 0.01806), (142.6, 0.01862), (153.3, 0.01908)]
H_H3 = [(43.1, 0.00424), (53.2, 0.00538), (61.1, 0.00588), (68.9, 0.00702), (81.9, 0.00878),
        (90.0, 0.00934), (100.8, 0.01018), (110.8, 0.01157), (120.8, 0.01188), (131.8, 0.01330),
        (144.7, 0.01383), (156.6, 0.01497)]
H_HE = [(113.6, 0.00888), (123.8, 0.00959), (134.5, 0.01064), (147.5, 0.01151)]
H_FIT1 = [(2.5, 0), (5.1, 0.00439), (7.7, 0.00826), (10.2, 0.01058), (14.1, 0.01336), (18.0, 0.01491),
          (23.2, 0.01621), (28.4, 0.01744), (36.2, 0.01868), (46.6, 0.01976), (59.5, 0.02069),
          (72.5, 0.02140), (85.5, 0.02196), (98.5, 0.02239), (111.4, 0.02276), (124.4, 0.02304),
          (137.4, 0.02326), (156.9, 0.02351)]
H_FIT2 = [(3.8, 0), (7.7, 0.00130), (14.1, 0.00346), (21.3, 0.00578), (28.4, 0.00795), (36.2, 0.00950),
          (46.6, 0.01120), (59.5, 0.01290), (72.5, 0.01429), (85.5, 0.01537), (98.5, 0.01630),
          (111.4, 0.01707), (124.4, 0.01769), (137.4, 0.01831), (156.9, 0.01918)]
H_FIT3 = [(5.1, 0), (14.1, 0.00031), (23.2, 0.00114), (33.6, 0.00254), (43.1, 0.00408), (53.1, 0.00532),
          (66.0, 0.00687), (79.0, 0.00841), (92.0, 0.00980), (105.0, 0.01104), (117.9, 0.01219),
          (130.9, 0.01321), (143.9, 0.01404), (156.9, 0.01485)]
H_FIT4 = [(5.1, 0), (20.6, 0.00006), (33.6, 0.00053), (46.6, 0.00145), (59.5, 0.00285), (72.5, 0.00439),
          (85.5, 0.00594), (98.5, 0.00748), (113.6, 0.00888), (124.4, 0.00981), (137.4, 0.01104),
          (156.9, 0.01250)]

# ---------------- i. 30 MPa, 363.15 K ----------------
I_TITLE = "i. 30 MPa, 363.15 K"
I_DEPTHS = ["0.05", "2.185", "5.185", "9.185", "12.185"]
I_XTICKS = [50, 100, 150, 200]
I_YTICKS = [0.005, 0.010, 0.015, 0.020, 0.025, 0.030, 0.035]
I_MEAN = 0.02994
I_HI = [(7.0, 0.02803), (18.9, 0.02867), (31.8, 0.02952), (63.1, 0.02975), (91.1, 0.02936),
        (124.3, 0.02889), (155.1, 0.03048), (184.3, 0.02943)]
I_H1 = [(8.9, 0.01395), (14.7, 0.01713), (20.8, 0.01840), (25.9, 0.01926), (35.0, 0.02037),
        (44.1, 0.02094), (52.8, 0.02206), (65.0, 0.02247), (74.1, 0.02301), (82.0, 0.02380),
        (93.0, 0.02390), (101.7, 0.02434), (113.1, 0.02444), (126.2, 0.02476), (136.2, 0.02514),
        (144.9, 0.02533), (157.2, 0.02587), (166.4, 0.02584), (175.2, 0.02619), (186.5, 0.02657),
        (195.6, 0.02650), (204.4, 0.02673)]
I_H2 = [(10.8, 0.00496), (16.8, 0.00712), (22.7, 0.00950), (27.8, 0.01068), (36.7, 0.01258),
        (46.7, 0.01411), (55.8, 0.01490), (67.1, 0.01681), (75.9, 0.01738), (83.9, 0.01850),
        (96.0, 0.01872), (105.1, 0.02009), (116.1, 0.02085), (128.0, 0.02132), (138.1, 0.02212),
        (147.2, 0.02237), (159.1, 0.02279), (168.2, 0.02349), (177.3, 0.02364), (188.3, 0.02444),
        (197.4, 0.02412), (206.3, 0.02476)]
I_H3 = [(42.0, 0.00648), (49.1, 0.00775), (58.4, 0.00960), (68.9, 0.01087), (78.1, 0.01230),
        (87.2, 0.01417), (98.1, 0.01500), (109.1, 0.01675), (126.2, 0.01799), (140.0, 0.01888),
        (150.2, 0.01983), (161.2, 0.02094), (170.3, 0.02110), (179.0, 0.02244), (190.4, 0.02221),
        (199.1, 0.02307), (208.4, 0.02317)]
I_HE = [(70.8, 0.00925), (89.0, 0.01195), (111.2, 0.01452), (122.2, 0.01602), (133.2, 0.01754),
        (143.2, 0.01815), (152.3, 0.01878), (163.3, 0.01977), (172.4, 0.02015), (181.3, 0.02117),
        (201.2, 0.02206), (210.5, 0.02228)]
I_FIT1 = [(1.6, 0), (3.3, 0.00458), (5.1, 0.00934), (7.7, 0.01347), (11.2, 0.01586), (16.4, 0.01761),
          (23.4, 0.01872), (33.9, 0.01983), (46.2, 0.02078), (63.6, 0.02180), (81.1, 0.02260),
          (98.6, 0.02342), (116.1, 0.02406), (133.6, 0.02466), (151.0, 0.02517), (168.5, 0.02565),
          (186.0, 0.02612), (210.5, 0.02657)]
I_FIT2 = [(4.2, 0), (7.7, 0.00235), (11.2, 0.00489), (16.4, 0.00712), (23.4, 0.00934), (32.2, 0.01157),
          (46.2, 0.01411), (63.6, 0.01602), (81.1, 0.01761), (98.6, 0.01888), (116.1, 0.01999),
          (133.6, 0.02094), (151.0, 0.02190), (168.5, 0.02269), (186.0, 0.02349), (210.5, 0.02466)]
I_FIT3 = [(5.9, 0), (14.7, 0.00076), (25.2, 0.00299), (35.7, 0.00537), (46.2, 0.00775), (60.1, 0.00998),
          (74.1, 0.01189), (89.9, 0.01411), (107.3, 0.01618), (124.8, 0.01777), (142.3, 0.01920),
          (159.8, 0.02031), (177.3, 0.02126), (194.8, 0.02221), (210.5, 0.02301)]
I_FIT4 = [(7.7, 0), (18.2, 0.00044), (28.7, 0.00203), (39.2, 0.00426), (49.7, 0.00648), (60.1, 0.00807),
          (70.8, 0.00934), (81.1, 0.01077), (98.6, 0.01284), (116.1, 0.01475), (133.6, 0.01665),
          (151.0, 0.01808), (168.5, 0.01951), (186.0, 0.02063), (210.5, 0.02237)]


def panel(title, depths, mean, series, fits, xticks, yticks, xmax, ymax, leg_cols, leg_rows):
    return dict(title=title, depths=depths, mean=mean, series=series, fits=fits,
                xticks=xticks, yticks=yticks, xmax=xmax, ymax=ymax,
                leg_cols=leg_cols, leg_rows=leg_rows)


PANELS = [
    panel(A_TITLE, A_DEPTHS, A_MEAN, [A_HI, A_H1, A_H2, A_H3, A_HE], [A_FIT1, A_FIT2, A_FIT3, A_FIT4],
          A_XTICKS, A_YTICKS, 360, 0.01402, (34, 297, 590), (41, 95)),
    panel(B_TITLE, B_DEPTHS, B_MEAN, [B_HI, B_H1, B_H2, B_H3, B_HE], [B_FIT1, B_FIT2, B_FIT3, B_FIT4],
          B_XTICKS, B_YTICKS, 495, 0.034, (67, 339, 630), (37, 90)),
    panel(C_TITLE, C_DEPTHS, C_MEAN, [C_HI, C_H1, C_H2, C_H3, C_HE], [C_FIT1, C_FIT2, C_FIT3, C_FIT4],
          C_XTICKS, C_YTICKS, 531, 0.0292, (36, 304, 590), (37, 92)),
    panel(D_TITLE, D_DEPTHS, D_MEAN, [D_HI, D_H1, D_H2, D_H3, D_HE], [D_FIT1, D_FIT2, D_FIT3, D_FIT4],
          D_XTICKS, D_YTICKS, 390, 0.0257, (34, 302, 590), (31, 77)),
    panel(E_TITLE, E_DEPTHS, E_MEAN, [E_HI, E_H1, E_H2, E_H3, E_HE], [E_FIT1, E_FIT2, E_FIT3, E_FIT4],
          E_XTICKS, E_YTICKS, 332, 0.0251, (34, 300, 591), (28, 75)),
    panel(F_TITLE, F_DEPTHS, F_MEAN, [F_HI, F_H1, F_H2, F_H3, F_HE], [F_FIT1, F_FIT2, F_FIT3, F_FIT4],
          F_XTICKS, F_YTICKS, 414, 0.0438, (48, 317, 605), (31, 77)),
    panel(G_TITLE, G_DEPTHS, G_MEAN, [G_HI, G_H1, G_H2, G_H3, G_HE], [G_FIT1, G_FIT2, G_FIT3, G_FIT4],
          G_XTICKS, G_YTICKS, 541, 0.0401, (34, 302, 590), (34, 82)),
    panel(H_TITLE, H_DEPTHS, H_MEAN, [H_HI, H_H1, H_H2, H_H3, H_HE], [H_FIT1, H_FIT2, H_FIT3, H_FIT4],
          H_XTICKS, H_YTICKS, 157, 0.0372, (49, 320, 598), (36, 82)),
    panel(I_TITLE, I_DEPTHS, I_MEAN, [I_HI, I_H1, I_H2, I_H3, I_HE], [I_FIT1, I_FIT2, I_FIT3, I_FIT4],
          I_XTICKS, I_YTICKS, 210.5, 0.0383, (26, 301, 585), (36, 80)),
]

# panel frames in pixels (left, right) and (top, bottom)
COLS = [(226, 1072), (1341, 2186), (2463, 3307)]
ROWS = [(28, 556), (721, 1240), (1390, 1921)]
# legend slot (column, row) of each series
SLOTS = [(0, 0), (1, 0), (2, 0), (0, 1), (1, 1)]

MARKERS = [
    dict(symbol="asterisk-open", size=15, color="#4a6fb0"),
    dict(symbol="square-open", size=13, color="#9b2d3a"),
    dict(symbol="diamond-open", size=15, color="#6f9a3a"),
    dict(symbol="triangle-up-open", size=15, color="#5e3f92"),
    dict(symbol="circle-open", size=14, color="#3e97b5"),
]
FIT_LINE = dict(color="black", width=3.5, dash="10px,6px")
MEAN_LINE = dict(color="black", width=4, dash="30px,8px,5px,8px")


def px_x(px):
    return px / W


def px_y(py):
    return 1 - py / H


fig = go.Figure()
layout = dict(width=W, height=H, margin=dict(l=0, r=0, t=0, b=0, autoexpand=False),
              paper_bgcolor="white", plot_bgcolor="white", annotations=[], shapes=[])

for i, p in enumerate(PANELS):
    r, c = divmod(i, 3)
    left, right = COLS[c]
    top, bottom = ROWS[r]
    sfx = "" if i == 0 else str(i + 1)
    xa, ya = "x" + sfx, "y" + sfx

    # fitted curves
    for fit in p["fits"]:
        fig.add_trace(go.Scatter(x=[q[0] for q in fit], y=[q[1] for q in fit], mode="lines",
                                 line=dict(shape="spline", smoothing=0.8, **FIT_LINE),
                                 xaxis=xa, yaxis=ya, showlegend=False, hoverinfo="skip"))
    # H_I mean line
    fig.add_trace(go.Scatter(x=[0, p["xmax"]], y=[p["mean"], p["mean"]], mode="lines",
                             line=MEAN_LINE, xaxis=xa, yaxis=ya, showlegend=False, hoverinfo="skip"))
    # measured points, one small legend per entry
    for k, pts in enumerate(p["series"]):
        m = MARKERS[k]
        n = 5 * i + k + 1
        leg = "legend" if n == 1 else "legend%d" % n
        fig.add_trace(go.Scatter(
            x=[q[0] for q in pts], y=[q[1] for q in pts], mode="markers",
            name="<i>H</i><sub>%s</sub> (%s mm)" % (SUBS[k], p["depths"][k]),
            marker=dict(symbol=m["symbol"], size=m["size"], color=m["color"],
                        line=dict(color=m["color"], width=2.2)),
            cliponaxis=False, xaxis=xa, yaxis=ya, legend=leg))
        col, row = SLOTS[k]
        layout[leg] = dict(x=px_x(left + p["leg_cols"][col] - 26),
                           y=px_y(top + p["leg_rows"][row] - 12),
                           xanchor="left", yanchor="middle", bgcolor="rgba(0,0,0,0)",
                           borderwidth=0, itemwidth=30,
                           font=dict(family=SERIF, size=40, color="black"))

    axis_common = dict(showline=True, linecolor="black", linewidth=4, mirror=True,
                       showgrid=False, zeroline=False, ticks="inside", ticklen=19,
                       tickwidth=3, tickcolor="black", automargin=False,
                       tickfont=dict(family=SERIF, size=53, color="black"))
    layout["xaxis" + sfx] = dict(domain=[px_x(left), px_x(right)], anchor=ya,
                                 range=[0, p["xmax"]], tickvals=p["xticks"],
                                 ticklabelstandoff=-18, **axis_common)
    layout["yaxis" + sfx] = dict(domain=[px_y(bottom), px_y(top)], anchor=xa,
                                 range=[0, p["ymax"]], tickvals=p["yticks"], tickformat=".3f",
                                 ticklabelstandoff=12, **axis_common)

    ann = layout["annotations"]
    ann.append(dict(text=p["title"], xref="paper", yref="paper", x=px_x(right - 13),
                    y=px_y(bottom - 45), xanchor="right", yanchor="middle", showarrow=False,
                    font=dict(family=SERIF, size=53, color="black")))
    ann.append(dict(text="0", xref="paper", yref="paper", x=px_x(left - 34), y=px_y(bottom + 36),
                    xanchor="center", yanchor="middle", showarrow=False,
                    font=dict(family=SERIF, size=53, color="black")))
    ann.append(dict(text="<i>t</i>/min", xref="paper", yref="paper", x=px_x((left + right) / 2),
                    y=px_y(bottom + 102), xanchor="center", yanchor="middle", showarrow=False,
                    font=dict(family=SERIF, size=52, color="black")))
    ann.append(dict(text="<i>HR</i><sub>H₂/H₂O</sub>", xref="paper", yref="paper",
                    x=px_x(left - 185), y=px_y((top + bottom) / 2), textangle=-90,
                    xanchor="center", yanchor="middle", showarrow=False,
                    font=dict(family=SERIF, size=56, color="black")))

# line key inside panel a
layout["shapes"].append(dict(type="line", xref="paper", yref="paper", x0=px_x(740), x1=px_x(845),
                             y0=px_y(344), y1=px_y(344), line=MEAN_LINE))
layout["shapes"].append(dict(type="line", xref="paper", yref="paper", x0=px_x(740), x1=px_x(845),
                             y0=px_y(442), y1=px_y(442), line=FIT_LINE))
for txt, yy in [("<i>H</i><sub>I</sub>点H<sub>2</sub>实测", 342), ("浓度平均值", 382), ("拟合曲线", 440)]:
    layout["annotations"].append(dict(text=txt, xref="paper", yref="paper", x=px_x(864), y=px_y(yy),
                                      xanchor="left", yanchor="middle", showarrow=False,
                                      font=dict(family=CJK, size=38, color="black")))

fig.update_layout(**layout)
fig.write_html("out.html")
